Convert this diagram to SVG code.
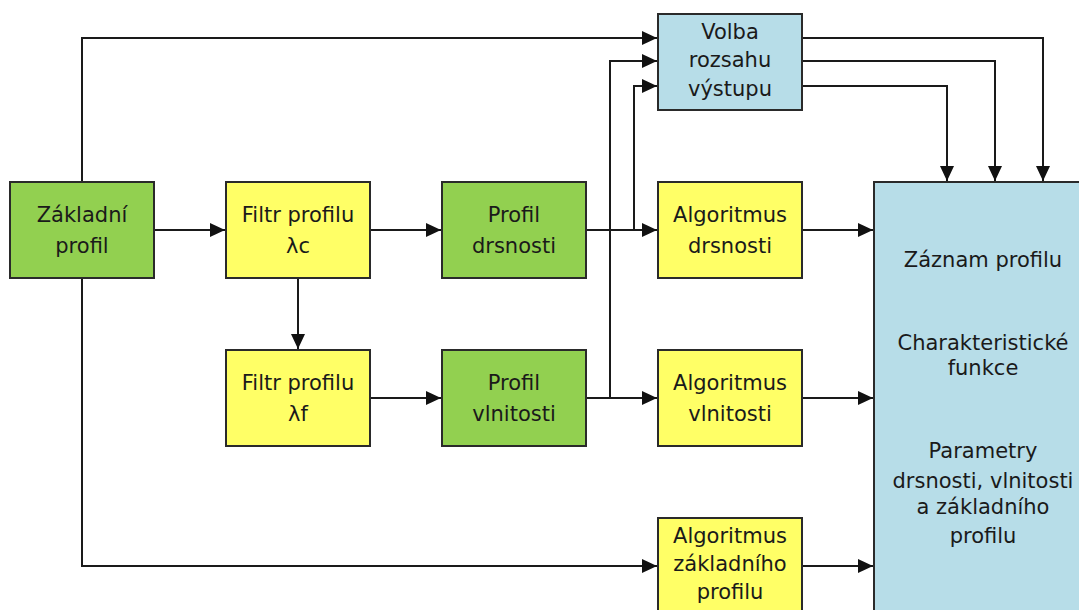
<svg xmlns="http://www.w3.org/2000/svg" width="1079" height="610" viewBox="0 0 1079 610">
<style>
.box{stroke:#2a2a2a;stroke-width:2}
.g{fill:#92d050}.y{fill:#ffff66}.b{fill:#b7dde8}
text{font-family:"DejaVu Sans","Liberation Sans",sans-serif;font-size:21px;fill:#1a1a1a;text-anchor:middle}
.c path{fill:none;stroke:#1a1a1a;stroke-width:2}
</style>
<defs>
<marker id="ah" markerUnits="userSpaceOnUse" markerWidth="16" markerHeight="14" refX="15" refY="7" orient="auto">
<path d="M0,0 L15,7 L0,14 Z" fill="#111"/>
</marker>
</defs>
<rect width="1079" height="610" fill="#fff"/>
<g class="c">
<path d="M154,230 H225" marker-end="url(#ah)"/>
<path d="M370,230 H441" marker-end="url(#ah)"/>
<path d="M298,278 V349" marker-end="url(#ah)"/>
<path d="M370,398 H441" marker-end="url(#ah)"/>
<path d="M586,230 H657" marker-end="url(#ah)"/>
<path d="M586,398 H657" marker-end="url(#ah)"/>
<path d="M634,230 V86 H657" marker-end="url(#ah)"/>
<path d="M610,398 V61 H657" marker-end="url(#ah)"/>
<path d="M82,182 V38 H657" marker-end="url(#ah)"/>
<path d="M82,278 V566 H657" marker-end="url(#ah)"/>
<path d="M802,230 H873" marker-end="url(#ah)"/>
<path d="M802,398 H873" marker-end="url(#ah)"/>
<path d="M802,566 H873" marker-end="url(#ah)"/>
<path d="M802,38 H1043 V181" marker-end="url(#ah)"/>
<path d="M802,61 H995 V181" marker-end="url(#ah)"/>
<path d="M802,86 H947 V181" marker-end="url(#ah)"/>
</g>
<g id="zakladni-profil"><rect class="box g" x="10" y="182" width="144" height="96"/><text x="82" y="222">Základní</text><text x="82" y="253">profil</text></g>
<g id="filtr-lc"><rect class="box y" x="226" y="182" width="144" height="96"/><text x="298" y="222">Filtr profilu</text><text x="298" y="253">λc</text></g>
<g id="profil-drsnosti"><rect class="box g" x="442" y="182" width="144" height="96"/><text x="514" y="222">Profil</text><text x="514" y="253">drsnosti</text></g>
<g id="alg-drsnosti"><rect class="box y" x="658" y="182" width="144" height="96"/><text x="730" y="222">Algoritmus</text><text x="730" y="253">drsnosti</text></g>
<g id="filtr-lf"><rect class="box y" x="226" y="350" width="144" height="96"/><text x="298" y="390">Filtr profilu</text><text x="298" y="421">λf</text></g>
<g id="profil-vlnitosti"><rect class="box g" x="442" y="350" width="144" height="96"/><text x="514" y="390">Profil</text><text x="514" y="421">vlnitosti</text></g>
<g id="alg-vlnitosti"><rect class="box y" x="658" y="350" width="144" height="96"/><text x="730" y="390">Algoritmus</text><text x="730" y="421">vlnitosti</text></g>
<g id="alg-zakladniho"><rect class="box y" x="658" y="518" width="144" height="100"/><text x="730" y="543">Algoritmus</text><text x="730" y="571">základního</text><text x="730" y="599">profilu</text></g>
<g id="volba"><rect class="box b" x="658" y="14" width="144" height="96"/><text x="730" y="39">Volba</text><text x="730" y="67">rozsahu</text><text x="730" y="96">výstupu</text></g>
<g id="zaznam"><rect class="box b" x="874" y="182" width="218" height="440"/><text x="983" y="267">Záznam profilu</text><text x="983" y="350">Charakteristické</text><text x="983" y="375">funkce</text><text x="983" y="458">Parametry</text><text x="983" y="488">drsnosti, vlnitosti</text><text x="983" y="514">a základního</text><text x="983" y="543">profilu</text></g>
</svg>
